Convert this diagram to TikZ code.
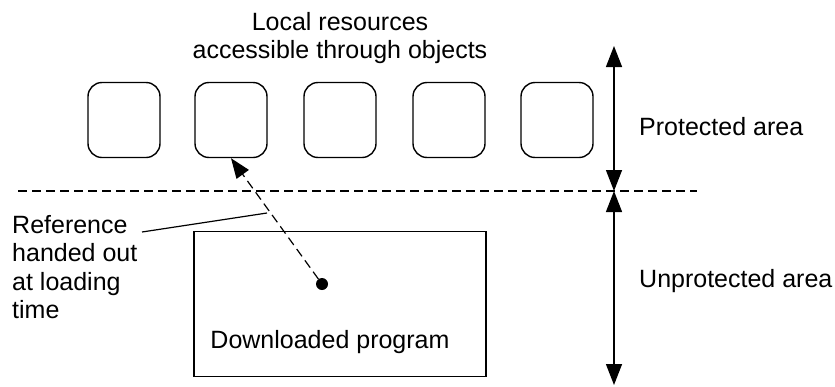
\documentclass[tikz,border=0pt]{standalone}
\usepackage{fontspec}
\setmainfont{Liberation Sans}
\usetikzlibrary{arrows.meta}
\begin{document}
\begin{tikzpicture}[x=1pt,y=-1pt,
  res/.style={draw,line width=1.4pt,rounded corners=14pt,minimum width=72pt,minimum height=75pt,inner sep=0pt},
  lbl/.style={font=\fontsize{25}{28.5}\selectfont,inner sep=0pt},
  tip/.style={-{Triangle[length=20pt,width=15pt]}},
  dtip/.style={{Triangle[length=21pt,width=16pt]}-{Triangle[length=21pt,width=16pt]}},
  dashline/.style={dash pattern=on 9pt off 5pt, line width=1.2pt}]
\useasboundingbox (0,0) rectangle (835,386);
\node[lbl,align=center,anchor=north] (title) at (340,12) {Local resources\\accessible through objects};
\foreach \i/\x in {1/124,2/231,3/340,4/449,5/557} {
  \node[res] (r\i) at (\x,120) {};
}
\coordinate (dl) at (18,191);
\coordinate (dr) at (697,191);
\draw[dashline] (dl) -- (dr);
\coordinate (vt) at (614,46);
\coordinate (vm) at (614,191);
\coordinate (vb) at (614,385);
\draw[line width=1.4pt,dtip] (vt) -- (vm);
\draw[line width=1.4pt,dtip] (vm) -- (vb);
\node[lbl,anchor=base west] (prot) at (639,135) {Protected area};
\node[lbl,anchor=base west] (unprot) at (639,287) {Unprotected area};
\node[draw,line width=1.4pt,minimum width=292pt,minimum height=145pt,inner sep=0pt] (prog) at (340,304) {};
\node[lbl,anchor=base] (progtxt) at (330,348) {Downloaded program};
\node[circle,fill,inner sep=0pt,minimum size=12pt] (dot) at (322,284) {};
\draw[dashline,tip] (dot) -- (r2.south);
\node[lbl,anchor=north west,align=left] (ref) at (12,215) {Reference\\handed out\\at loading\\time};
\coordinate (lead) at (267,213);
\draw[line width=1.2pt] (142,232) -- (lead);
\end{tikzpicture}
\end{document}
